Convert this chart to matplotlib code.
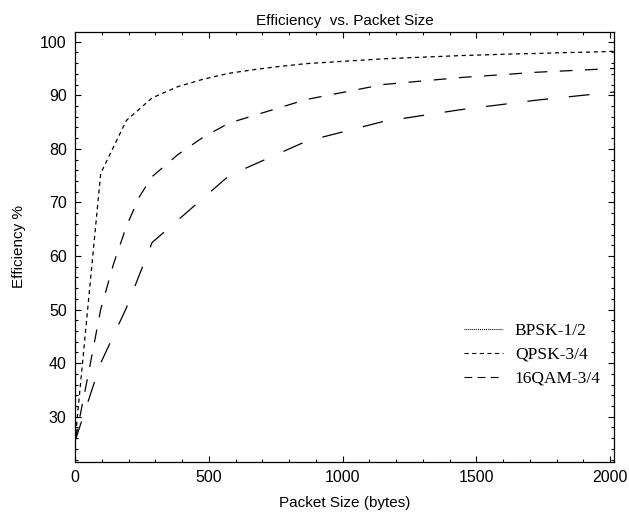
import matplotlib
matplotlib.use("Agg")
import matplotlib.pyplot as plt
from matplotlib.lines import Line2D
from matplotlib.ticker import MultipleLocator

plt.rcParams['font.family'] = ['Liberation Sans', 'DejaVu Sans']
plt.rcParams['lines.scale_dashes'] = False

# Data
bpsk_x = [0, 96, 192, 288, 384, 480, 576, 672, 768, 864, 960, 1056, 1152,
          1248, 1344, 1440, 1536, 1632, 1728, 1824, 1920, 2016]
bpsk_y = [25.4, 75.4, 85.3, 89.5, 91.6, 93.0, 94.1, 94.8, 95.4, 95.9, 96.2,
          96.5, 96.8, 97.0, 97.2, 97.4, 97.55, 97.7, 97.8, 97.95, 98.05, 98.2]

qpsk_x = [0, 48, 96, 144, 192, 240, 288, 384, 480, 576, 864, 1152, 1440, 1728, 2016]
qpsk_y = [25.4, 37.5, 50.0, 58.5, 65.5, 71.0, 74.8, 78.9, 82.2, 84.8, 89.2,
          92.0, 93.3, 94.3, 95.0]

qam_x = [0, 96, 192, 288, 576, 864, 1152, 1440, 1728, 2016]
qam_y = [25.4, 40.0, 50.3, 62.5, 75.0, 81.4, 85.1, 87.3, 89.1, 90.6]

labels = ['BPSK-1/2', 'QPSK-3/4', '16QAM-3/4']

fig = plt.figure(figsize=(6.29, 5.14), dpi=100)
ax = fig.add_axes([75/629, 1-461.7/514, (614.3-75)/629, (461.7-32.3)/514])

lw = 0.9
ax.plot(bpsk_x, bpsk_y, color='black', lw=lw, dashes=(3.0, 2.6))
ax.plot(qpsk_x, qpsk_y, color='black', lw=lw, dashes=(9.2, 9.0))
ax.plot(qam_x, qam_y, color='black', lw=lw, dashes=(15.0, 15.0))

ax.set_xlim(0, 2016)
ax.set_ylim(21.6, 101.75)
ax.xaxis.set_major_locator(MultipleLocator(500))
ax.xaxis.set_minor_locator(MultipleLocator(100))
ax.yaxis.set_major_locator(MultipleLocator(10))
ax.yaxis.set_minor_locator(MultipleLocator(2))
ax.set_yticks([30, 40, 50, 60, 70, 80, 90, 100])
ax.tick_params(which='both', direction='in', top=True, right=True, labelsize=11.5, width=0.8)
ax.tick_params(which='major', length=4, pad=6)
ax.tick_params(which='minor', length=2)
for s in ax.spines.values():
    s.set_linewidth(0.9)

ax.set_title('Efficiency  vs. Packet Size', fontsize=11, pad=5)
ax.set_xlabel('Packet Size (bytes)', fontsize=11, labelpad=8)
ax.set_ylabel('Efficiency %', fontsize=11, labelpad=10)

handles = [
    Line2D([], [], color='black', lw=0.8, dashes=(0.7, 0.7)),
    Line2D([], [], color='black', lw=0.8, dashes=(3.0, 2.5)),
    Line2D([], [], color='black', lw=0.8, dashes=(5.5, 4.0)),
]
ax.legend(handles, labels, loc='lower right', bbox_to_anchor=(1.004, 0.138),
          frameon=False, prop={'family': 'Liberation Serif', 'size': 12.5},
          handlelength=2.25, handletextpad=0.7, labelspacing=0.45)

fig.savefig('out.png', dpi=100)
